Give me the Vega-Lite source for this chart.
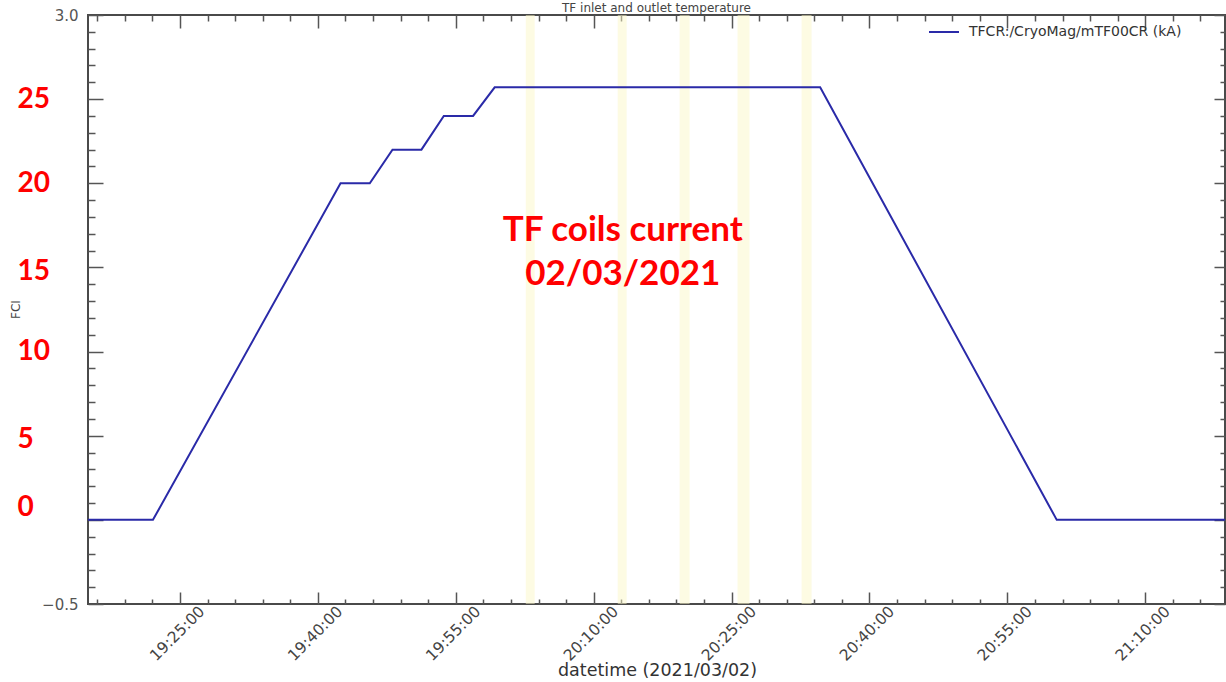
{
  "$schema": "https://vega.github.io/schema/vega-lite/v6.json",
  "autosize": {"type": "none"},
  "padding": {"left": 88, "top": 15, "right": 1, "bottom": 78},
  "width": 1137,
  "height": 589,
  "background": "#ffffff",
  "title": {"text": "TF inlet and outlet temperature", "anchor": "middle", "font": "DejaVu Sans", "fontSize": 12, "fontWeight": "normal", "color": "#444444", "baseline": "alphabetic", "offset": 4, "dy": 20},
  "config": {
    "view": {"stroke": "#4a4a4a", "strokeWidth": 2},
    "axis": {"domain": false, "grid": false, "tickColor": "#555555", "tickWidth": 1.5, "labelFlush": false, "labelBound": false, "labelOverlap": false}
  },
  "datasets": {
    "current": [
      {"t": "2021-03-02T19:15:00", "v": 0.0, "series": "TFCR:/CryoMag/mTF00CR (kA)"},
      {"t": "2021-03-02T19:22:04", "v": 0.0, "series": "TFCR:/CryoMag/mTF00CR (kA)"},
      {"t": "2021-03-02T19:42:28", "v": 2.0, "series": "TFCR:/CryoMag/mTF00CR (kA)"},
      {"t": "2021-03-02T19:45:39", "v": 2.0, "series": "TFCR:/CryoMag/mTF00CR (kA)"},
      {"t": "2021-03-02T19:48:07", "v": 2.2, "series": "TFCR:/CryoMag/mTF00CR (kA)"},
      {"t": "2021-03-02T19:51:16", "v": 2.2, "series": "TFCR:/CryoMag/mTF00CR (kA)"},
      {"t": "2021-03-02T19:53:42", "v": 2.4, "series": "TFCR:/CryoMag/mTF00CR (kA)"},
      {"t": "2021-03-02T19:56:53", "v": 2.4, "series": "TFCR:/CryoMag/mTF00CR (kA)"},
      {"t": "2021-03-02T19:59:14", "v": 2.57, "series": "TFCR:/CryoMag/mTF00CR (kA)"},
      {"t": "2021-03-02T20:34:38", "v": 2.57, "series": "TFCR:/CryoMag/mTF00CR (kA)"},
      {"t": "2021-03-02T21:00:22", "v": 0.0, "series": "TFCR:/CryoMag/mTF00CR (kA)"},
      {"t": "2021-03-02T21:18:40", "v": 0.0, "series": "TFCR:/CryoMag/mTF00CR (kA)"}
    ],
    "bands": [
      {"start": "2021-03-02T20:02:37", "end": "2021-03-02T20:03:35"},
      {"start": "2021-03-02T20:12:37", "end": "2021-03-02T20:13:35"},
      {"start": "2021-03-02T20:19:21", "end": "2021-03-02T20:20:26"},
      {"start": "2021-03-02T20:25:39", "end": "2021-03-02T20:26:57"},
      {"start": "2021-03-02T20:32:37", "end": "2021-03-02T20:33:42"}
    ],
    "notes": [
      {"t": "2021-03-02T20:13:10", "v": 1.72, "label": "TF coils current\n02/03/2021"}
    ]
  },
  "resolve": {"axis": {"x": "independent", "y": "independent"}},
  "layer": [
    {
      "data": {"name": "bands"},
      "mark": {"type": "rect", "color": "#fbf7c8", "opacity": 0.5},
      "encoding": {
        "x": {
          "field": "start", "type": "temporal",
          "scale": {"domain": [{"year": 2021, "month": 3, "date": 2, "hours": 19, "minutes": 15}, {"year": 2021, "month": 3, "date": 2, "hours": 21, "minutes": 18, "seconds": 40}]},
          "axis": {
            "orient": "bottom",
            "values": [
              {"year": 2021, "month": 3, "date": 2, "hours": 19, "minutes": 16},
              {"year": 2021, "month": 3, "date": 2, "hours": 19, "minutes": 19},
              {"year": 2021, "month": 3, "date": 2, "hours": 19, "minutes": 22},
              {"year": 2021, "month": 3, "date": 2, "hours": 19, "minutes": 25},
              {"year": 2021, "month": 3, "date": 2, "hours": 19, "minutes": 28},
              {"year": 2021, "month": 3, "date": 2, "hours": 19, "minutes": 31},
              {"year": 2021, "month": 3, "date": 2, "hours": 19, "minutes": 34},
              {"year": 2021, "month": 3, "date": 2, "hours": 19, "minutes": 37},
              {"year": 2021, "month": 3, "date": 2, "hours": 19, "minutes": 40},
              {"year": 2021, "month": 3, "date": 2, "hours": 19, "minutes": 43},
              {"year": 2021, "month": 3, "date": 2, "hours": 19, "minutes": 46},
              {"year": 2021, "month": 3, "date": 2, "hours": 19, "minutes": 49},
              {"year": 2021, "month": 3, "date": 2, "hours": 19, "minutes": 52},
              {"year": 2021, "month": 3, "date": 2, "hours": 19, "minutes": 55},
              {"year": 2021, "month": 3, "date": 2, "hours": 19, "minutes": 58},
              {"year": 2021, "month": 3, "date": 2, "hours": 20, "minutes": 1},
              {"year": 2021, "month": 3, "date": 2, "hours": 20, "minutes": 4},
              {"year": 2021, "month": 3, "date": 2, "hours": 20, "minutes": 7},
              {"year": 2021, "month": 3, "date": 2, "hours": 20, "minutes": 10},
              {"year": 2021, "month": 3, "date": 2, "hours": 20, "minutes": 13},
              {"year": 2021, "month": 3, "date": 2, "hours": 20, "minutes": 16},
              {"year": 2021, "month": 3, "date": 2, "hours": 20, "minutes": 19},
              {"year": 2021, "month": 3, "date": 2, "hours": 20, "minutes": 22},
              {"year": 2021, "month": 3, "date": 2, "hours": 20, "minutes": 25},
              {"year": 2021, "month": 3, "date": 2, "hours": 20, "minutes": 28},
              {"year": 2021, "month": 3, "date": 2, "hours": 20, "minutes": 31},
              {"year": 2021, "month": 3, "date": 2, "hours": 20, "minutes": 34},
              {"year": 2021, "month": 3, "date": 2, "hours": 20, "minutes": 37},
              {"year": 2021, "month": 3, "date": 2, "hours": 20, "minutes": 40},
              {"year": 2021, "month": 3, "date": 2, "hours": 20, "minutes": 43},
              {"year": 2021, "month": 3, "date": 2, "hours": 20, "minutes": 46},
              {"year": 2021, "month": 3, "date": 2, "hours": 20, "minutes": 49},
              {"year": 2021, "month": 3, "date": 2, "hours": 20, "minutes": 52},
              {"year": 2021, "month": 3, "date": 2, "hours": 20, "minutes": 55},
              {"year": 2021, "month": 3, "date": 2, "hours": 20, "minutes": 58},
              {"year": 2021, "month": 3, "date": 2, "hours": 21, "minutes": 1},
              {"year": 2021, "month": 3, "date": 2, "hours": 21, "minutes": 4},
              {"year": 2021, "month": 3, "date": 2, "hours": 21, "minutes": 7},
              {"year": 2021, "month": 3, "date": 2, "hours": 21, "minutes": 10},
              {"year": 2021, "month": 3, "date": 2, "hours": 21, "minutes": 13},
              {"year": 2021, "month": 3, "date": 2, "hours": 21, "minutes": 16}
            ],
            "tickSize": {"condition": {"test": "minutes(datum.value) % 15 == 10", "value": -12}, "value": -5},
            "labelExpr": "minutes(datum.value) % 15 == 10 ? timeFormat(datum.value, '%H:%M:%S') : ''",
            "labelAngle": -45,
            "labelAlign": "center",
            "labelBaseline": "middle",
            "labelPadding": 41,
            "labelOffset": -3,
            "labelFont": "DejaVu Sans",
            "labelFontSize": 15.5,
            "labelColor": "#444444",
            "title": "datetime (2021/03/02)",
            "titleFont": "DejaVu Sans",
            "titleFontSize": 17.5,
            "titleFontWeight": "normal",
            "titleColor": "#333333",
            "titleX": 569,
            "titleY": 66,
            "titleAlign": "center",
            "titleBaseline": "middle"
          }
        },
        "x2": {"field": "end"}
      }
    },
    {
      "data": {"name": "current"},
      "mark": {"type": "line", "strokeWidth": 2},
      "encoding": {
        "x": {
          "field": "t", "type": "temporal",
          "scale": {"domain": [{"year": 2021, "month": 3, "date": 2, "hours": 19, "minutes": 15}, {"year": 2021, "month": 3, "date": 2, "hours": 21, "minutes": 18, "seconds": 40}]},
          "axis": {
            "orient": "top",
            "values": [
              {"year": 2021, "month": 3, "date": 2, "hours": 19, "minutes": 16},
              {"year": 2021, "month": 3, "date": 2, "hours": 19, "minutes": 19},
              {"year": 2021, "month": 3, "date": 2, "hours": 19, "minutes": 22},
              {"year": 2021, "month": 3, "date": 2, "hours": 19, "minutes": 25},
              {"year": 2021, "month": 3, "date": 2, "hours": 19, "minutes": 28},
              {"year": 2021, "month": 3, "date": 2, "hours": 19, "minutes": 31},
              {"year": 2021, "month": 3, "date": 2, "hours": 19, "minutes": 34},
              {"year": 2021, "month": 3, "date": 2, "hours": 19, "minutes": 37},
              {"year": 2021, "month": 3, "date": 2, "hours": 19, "minutes": 40},
              {"year": 2021, "month": 3, "date": 2, "hours": 19, "minutes": 43},
              {"year": 2021, "month": 3, "date": 2, "hours": 19, "minutes": 46},
              {"year": 2021, "month": 3, "date": 2, "hours": 19, "minutes": 49},
              {"year": 2021, "month": 3, "date": 2, "hours": 19, "minutes": 52},
              {"year": 2021, "month": 3, "date": 2, "hours": 19, "minutes": 55},
              {"year": 2021, "month": 3, "date": 2, "hours": 19, "minutes": 58},
              {"year": 2021, "month": 3, "date": 2, "hours": 20, "minutes": 1},
              {"year": 2021, "month": 3, "date": 2, "hours": 20, "minutes": 4},
              {"year": 2021, "month": 3, "date": 2, "hours": 20, "minutes": 7},
              {"year": 2021, "month": 3, "date": 2, "hours": 20, "minutes": 10},
              {"year": 2021, "month": 3, "date": 2, "hours": 20, "minutes": 13},
              {"year": 2021, "month": 3, "date": 2, "hours": 20, "minutes": 16},
              {"year": 2021, "month": 3, "date": 2, "hours": 20, "minutes": 19},
              {"year": 2021, "month": 3, "date": 2, "hours": 20, "minutes": 22},
              {"year": 2021, "month": 3, "date": 2, "hours": 20, "minutes": 25},
              {"year": 2021, "month": 3, "date": 2, "hours": 20, "minutes": 28},
              {"year": 2021, "month": 3, "date": 2, "hours": 20, "minutes": 31},
              {"year": 2021, "month": 3, "date": 2, "hours": 20, "minutes": 34},
              {"year": 2021, "month": 3, "date": 2, "hours": 20, "minutes": 37},
              {"year": 2021, "month": 3, "date": 2, "hours": 20, "minutes": 40},
              {"year": 2021, "month": 3, "date": 2, "hours": 20, "minutes": 43},
              {"year": 2021, "month": 3, "date": 2, "hours": 20, "minutes": 46},
              {"year": 2021, "month": 3, "date": 2, "hours": 20, "minutes": 49},
              {"year": 2021, "month": 3, "date": 2, "hours": 20, "minutes": 52},
              {"year": 2021, "month": 3, "date": 2, "hours": 20, "minutes": 55},
              {"year": 2021, "month": 3, "date": 2, "hours": 20, "minutes": 58},
              {"year": 2021, "month": 3, "date": 2, "hours": 21, "minutes": 1},
              {"year": 2021, "month": 3, "date": 2, "hours": 21, "minutes": 4},
              {"year": 2021, "month": 3, "date": 2, "hours": 21, "minutes": 7},
              {"year": 2021, "month": 3, "date": 2, "hours": 21, "minutes": 10},
              {"year": 2021, "month": 3, "date": 2, "hours": 21, "minutes": 13},
              {"year": 2021, "month": 3, "date": 2, "hours": 21, "minutes": 16}
            ],
            "tickSize": {"condition": {"test": "minutes(datum.value) % 15 == 10", "value": -13}, "value": -6},
            "labels": false,
            "title": null
          }
        },
        "y": {
          "field": "v", "type": "quantitative",
          "scale": {"domain": [-0.5, 3.0], "nice": false, "zero": false},
          "axis": {
            "orient": "left",
            "values": [-0.5, -0.4, -0.3, -0.2, -0.1, 0, 0.1, 0.2, 0.3, 0.4, 0.5, 0.6, 0.7, 0.8, 0.9, 1.0, 1.1, 1.2, 1.3, 1.4, 1.5, 1.6, 1.7, 1.8, 1.9, 2.0, 2.1, 2.2, 2.3, 2.4, 2.5, 2.6, 2.7, 2.8, 2.9, 3.0],
            "tickSize": {"condition": {"test": "abs(datum.value*2 - round(datum.value*2)) < 0.001", "value": -15}, "value": -7},
            "labelExpr": "datum.value > 2.99 ? '3.0' : (datum.value < -0.49 ? '\u22120.5' : '')",
            "labelAlign": "right",
            "labelBaseline": "middle",
            "labelPadding": 25,
            "labelFont": "DejaVu Sans",
            "labelFontSize": 15,
            "labelColor": "#555555",
            "title": "FCI",
            "titleFont": "DejaVu Sans",
            "titleFontSize": 12,
            "titleFontWeight": "normal",
            "titleColor": "#444444",
            "titleAngle": -90,
            "titleX": -73,
            "titleY": 294,
            "titleAlign": "center",
            "titleBaseline": "middle"
          }
        },
        "color": {
          "field": "series", "type": "nominal",
          "scale": {"range": ["#2a2aa8"]},
          "legend": {
            "orient": "none", "legendX": 840, "legendY": 1, "title": null,
            "symbolType": "stroke", "symbolSize": 900, "symbolStrokeWidth": 2,
            "labelFont": "DejaVu Sans", "labelFontSize": 14, "labelColor": "#333333", "labelOffset": 9, "labelLimit": 400, "padding": 0
          }
        }
      }
    },
    {
      "data": {"name": "notes"},
      "mark": {"type": "text", "font": "Lato", "fontSize": 35, "fontWeight": "bold", "color": "#ff0000", "lineBreak": "\n", "lineHeight": 44, "align": "center", "baseline": "middle"},
      "encoding": {
        "x": {"field": "t", "type": "temporal", "axis": null},
        "y": {
          "field": "v", "type": "quantitative",
          "scale": {"domain": [-0.5, 3.0], "nice": false, "zero": false},
          "axis": {
            "orient": "right",
            "values": [-0.5, -0.4, -0.3, -0.2, -0.1, 0, 0.1, 0.2, 0.3, 0.4, 0.5, 0.6, 0.7, 0.8, 0.9, 1.0, 1.1, 1.2, 1.3, 1.4, 1.5, 1.6, 1.7, 1.8, 1.9, 2.0, 2.1, 2.2, 2.3, 2.4, 2.5, 2.6, 2.7, 2.8, 2.9, 3.0],
            "tickSize": {"condition": {"test": "abs(datum.value*2 - round(datum.value*2)) < 0.001", "value": -11}, "value": -5},
            "labels": false,
            "title": null
          }
        },
        "text": {"field": "label"}
      }
    },
    {
      "data": {"name": "current"},
      "mark": {"type": "point", "opacity": 0},
      "encoding": {
        "x": {"field": "t", "type": "temporal", "axis": null},
        "y": {
          "field": "v", "type": "quantitative",
          "scale": {"domain": [-0.5, 3.0], "nice": false, "zero": false},
          "axis": {
            "orient": "left",
            "values": [0, 0.5, 1, 1.5, 2, 2.5],
            "ticks": false,
            "tickSize": 0,
            "labelExpr": "format(datum.value * 10, 'd')",
            "labelAlign": "left",
            "labelBaseline": "middle",
            "labelPadding": 71,
            "labelOffset": {"condition": [{"test": "datum.value == 0", "value": -12}, {"test": "datum.value == 0.5 || datum.value == 1.5", "value": 4}], "value": 0},
            "labelFont": "Lato",
            "labelFontSize": 28,
            "labelFontWeight": "bold",
            "labelColor": "#ff0000",
            "title": null
          }
        }
      }
    }
  ]
}
